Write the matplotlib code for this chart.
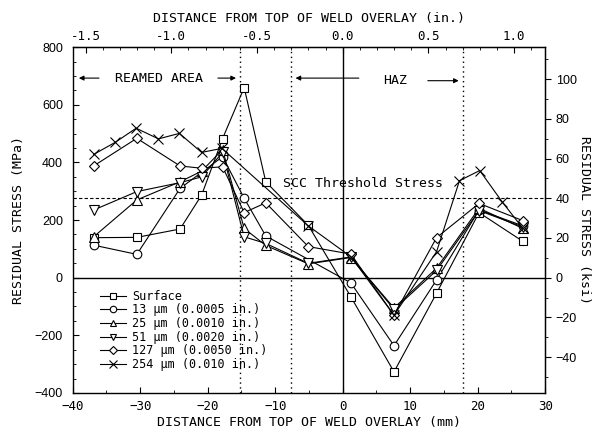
import matplotlib
matplotlib.use("Agg")
import matplotlib.pyplot as plt
from matplotlib.ticker import MultipleLocator, FixedLocator, FormatStrFormatter

# ---------------- data (mm, MPa) ----------------
x_surface = [-36.9, -30.5, -24.1, -20.9, -17.8, -14.6, -11.4, -5.1, 1.2, 7.6, 13.9, 20.2, 26.7]
surface   = [139, 140, 169, 287, 483, 660, 333, 182, -66, -327, -54, 226, 126]

x_13 = [-36.9, -30.5, -24.1, -17.8, -14.6, -11.4, 1.2, 7.6, 13.9, 20.2, 26.7]
um13 = [113, 81, 310, 420, 276, 145, -18, -236, -8, 235, 180]

x_25 = [-36.9, -30.5, -24.1, -20.9, -17.8, -14.6, -11.4, -5.1, 1.2, 7.6, 13.9, 20.2, 26.7]
um25 = [142, 270, 333, 370, 445, 171, 112, 48, 70, -105, 33, 241, 171]

x_51 = [-36.9, -30.5, -24.1, -20.9, -17.8, -14.6, -11.4, -5.1, 1.2, 7.6, 13.9, 20.2, 26.7]
um51 = [235, 299, 330, 350, 435, 142, 119, 50, 72, -110, 25, 233, 176]

x_127 = [-36.9, -30.5, -24.1, -20.9, -17.8, -14.6, -11.4, -5.1, 1.2, 7.6, 13.9, 20.2, 26.7]
um127 = [388, 484, 388, 380, 385, 226, 260, 108, 82, -130, 139, 258, 198]

x_254 = [-36.9, -33.7, -30.6, -27.3, -24.2, -20.9, -17.9, -5.1, 1.2, 7.6, 13.9, 17.3, 20.3, 23.6, 26.7]
um254 = [428, 470, 519, 482, 501, 435, 449, 180, 73, -130, 90, 337, 372, 264, 171]

series_labels = ["Surface", "13 µm (0.0005 in.)", "25 µm (0.0010 in.)",
                 "51 µm (0.0020 in.)", "127 µm (0.0050 in.)", "254 µm (0.010 in.)"]

inch_ticks = [-1.5, -1.0, -0.5, 0.0, 0.5, 1.0]
ksi_ticks = [-40, -20, 0, 20, 40, 60, 80, 100]

threshold_mpa = 276          # SCC threshold (40 ksi)
zone_lines_mm = [-15.24, -7.62, 17.78]   # -0.6, -0.3, 0.7 in.

MPA_PER_KSI = 6.89476
MM_PER_IN = 25.4

mono = "DejaVu Sans Mono"
sans = "Liberation Sans"

fig = plt.figure(figsize=(6.07, 4.33), dpi=100)
ax = fig.add_axes([0.1198, 0.0926, 0.7784, 0.7982])

ax.set_xlim(-40, 30)
ax.set_ylim(-400, 800)

# reference lines
ax.axhline(0, color="black", lw=1.0, zorder=1)
ax.axvline(0, color="black", lw=1.0, zorder=1)
ax.axhline(threshold_mpa, color="black", lw=0.8, ls=(0, (3, 2)), zorder=1)
for xv in zone_lines_mm:
    ax.axvline(xv, color="black", lw=1.0, ls=(0, (1, 2.5)), zorder=1)

common = dict(color="black", lw=0.8, markerfacecolor="white",
              markeredgecolor="black", markeredgewidth=0.8, zorder=3)
ax.plot(x_surface, surface, marker="s", ms=5.8, label=series_labels[0], **common)
ax.plot(x_13, um13, marker="o", ms=6.2, label=series_labels[1], **common)
ax.plot(x_25, um25, marker="^", ms=6.5, label=series_labels[2], **common)
ax.plot(x_51, um51, marker="v", ms=6.5, label=series_labels[3], **common)
ax.plot(x_127, um127, marker="D", ms=5.2, label=series_labels[4], **common)
ax.plot(x_254, um254, marker="x", ms=7.5, label=series_labels[5], **common)

# annotations
ax.text(-27.2, 693, "REAMED AREA", family=mono, fontsize=9.5, ha="center", va="center")
arrow = dict(arrowstyle="-|>", color="black", lw=0.8, mutation_scale=7)
ax.annotate("", xy=(-39.5, 693), xytext=(-35.7, 693), arrowprops=arrow)
ax.annotate("", xy=(-15.4, 693), xytext=(-18.9, 693), arrowprops=arrow)

ax.text(7.7, 686, "HAZ", family=mono, fontsize=9.5, ha="center", va="center")
ax.annotate("", xy=(-7.4, 693), xytext=(2.8, 693), arrowprops=arrow)
ax.annotate("", xy=(17.6, 684), xytext=(12.2, 684), arrowprops=arrow)

ax.text(3.0, 326, "SCC Threshold Stress", family=mono, fontsize=9.5,
        ha="center", va="center")

# primary axes ticks
ax.xaxis.set_major_locator(MultipleLocator(10))
ax.xaxis.set_minor_locator(MultipleLocator(5))
ax.yaxis.set_major_locator(MultipleLocator(200))
ax.yaxis.set_minor_locator(MultipleLocator(50))
ax.tick_params(axis="both", which="both", direction="in", top=False, right=False)
ax.tick_params(axis="both", which="major", length=4, width=0.8)
ax.tick_params(axis="both", which="minor", length=2, width=0.6)
ax.tick_params(axis="x", labelsize=9, pad=5)
ax.tick_params(axis="y", labelsize=9, pad=7)
for lab in ax.get_xticklabels():
    lab.set_family(mono)
for lab in ax.get_yticklabels():
    lab.set_family(sans)
for sp in ax.spines.values():
    sp.set_linewidth(1.0)

ax.set_xlabel("DISTANCE FROM TOP OF WELD OVERLAY (mm)", family=mono, fontsize=9.5, labelpad=2)
ax.set_ylabel("RESIDUAL STRESS (MPa)", family=mono, fontsize=9.5, labelpad=7)

# secondary axes
secx = ax.secondary_xaxis("top", functions=(lambda v: v / MM_PER_IN, lambda v: v * MM_PER_IN))
secx.xaxis.set_major_locator(FixedLocator(inch_ticks))
secx.xaxis.set_minor_locator(FixedLocator([i / 10 for i in range(-15, 12)]))
secx.xaxis.set_major_formatter(FormatStrFormatter("%.1f"))
secx.tick_params(which="both", direction="in")
secx.tick_params(which="major", length=4, width=0.8, labelsize=9, pad=3)
secx.tick_params(which="minor", length=2, width=0.6)
for lab in secx.get_xticklabels():
    lab.set_family(mono)
secx.set_xlabel("DISTANCE FROM TOP OF WELD OVERLAY (in.)", family=mono, fontsize=9.5, labelpad=6)

secy = ax.secondary_yaxis("right", functions=(lambda v: v / MPA_PER_KSI, lambda v: v * MPA_PER_KSI))
secy.yaxis.set_major_locator(FixedLocator(ksi_ticks))
secy.yaxis.set_minor_locator(FixedLocator(list(range(-50, 111, 10))))
secy.tick_params(which="both", direction="out")
secy.tick_params(which="major", length=4, width=0.8, labelsize=9)
secy.tick_params(which="minor", length=2, width=0.6)
for lab in secy.get_yticklabels():
    lab.set_family(sans)
secy.set_ylabel("RESIDUAL STRESS (ksi)", family=mono, fontsize=9.5, rotation=-90, labelpad=10)

leg = ax.legend(loc="upper left", bbox_to_anchor=(0.058, 0.298), frameon=False,
                prop={"family": mono, "size": 8.5}, handlelength=2.2, markerscale=0.75,
                handletextpad=0.5, labelspacing=0.05, borderpad=0, borderaxespad=0)

fig.savefig("out.png", dpi=100)
